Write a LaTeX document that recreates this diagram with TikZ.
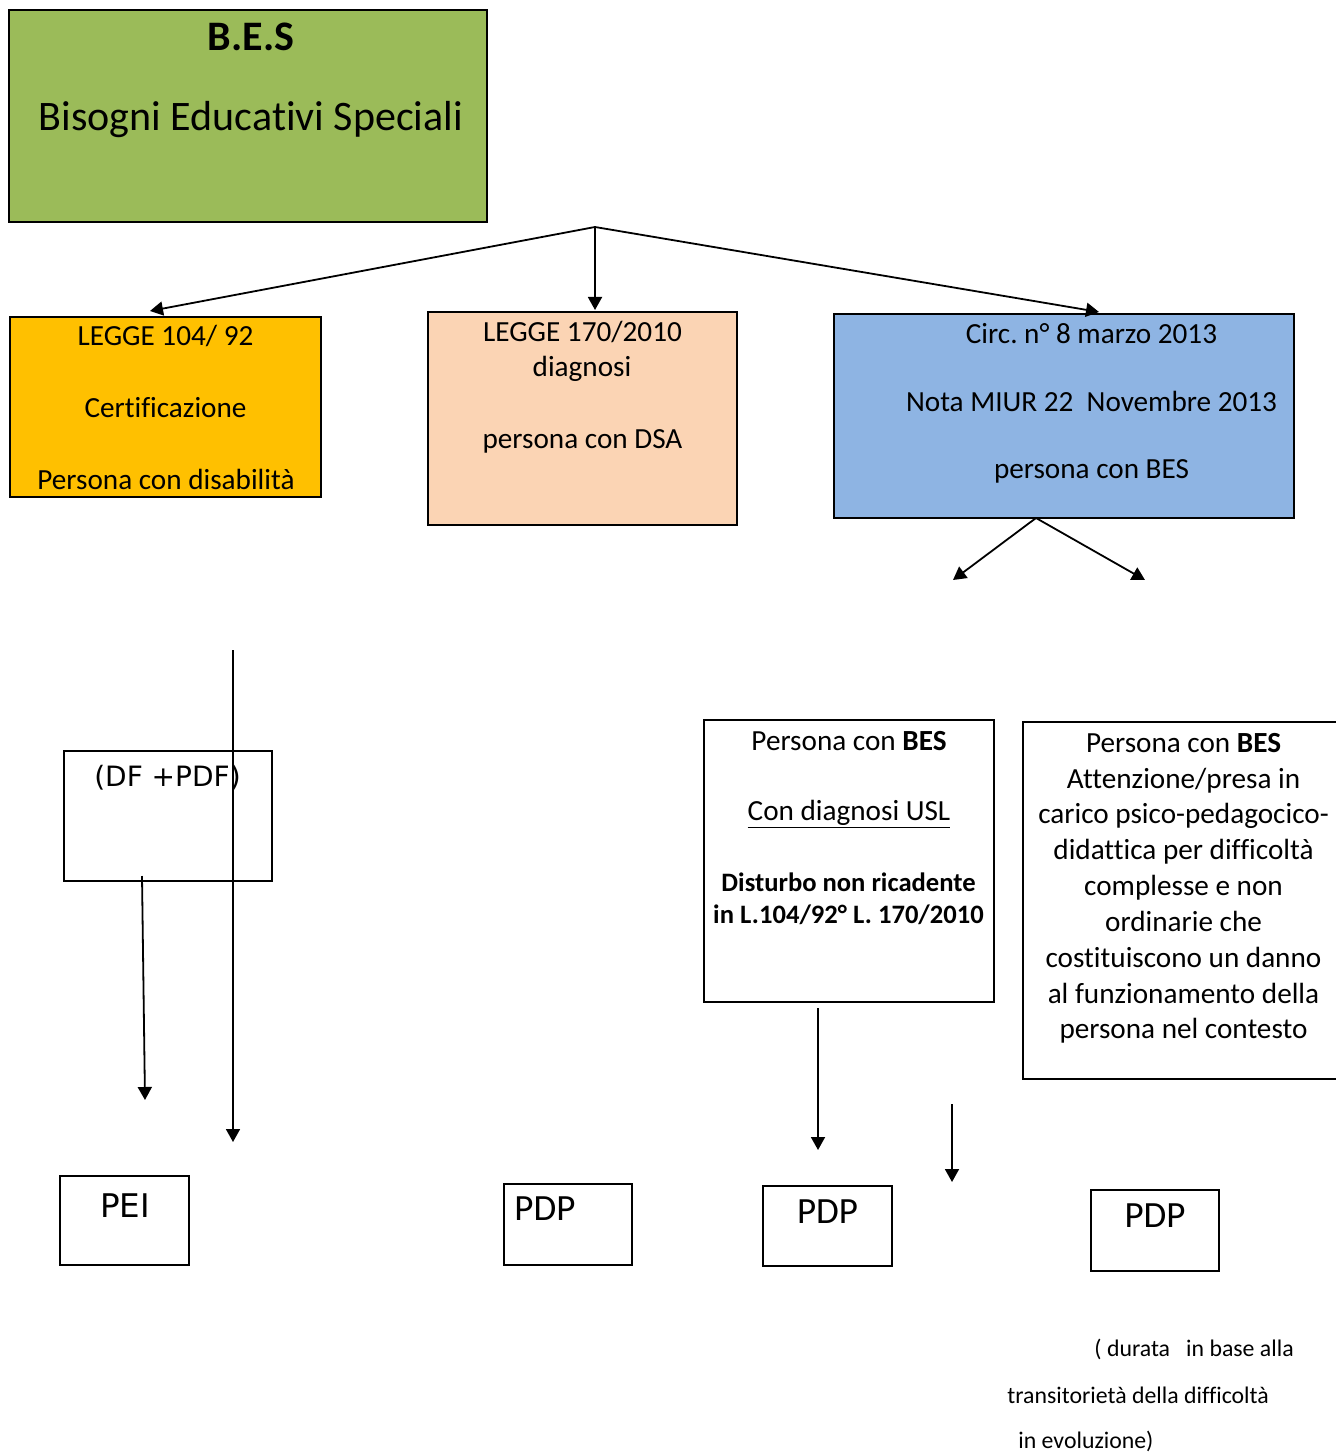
\documentclass[tikz,border=0pt]{standalone}
\usepackage{fontspec}
\setmainfont{Carlito}[Ligatures=NoCommon]
\newfontfamily\dv{DejaVu Sans}
\usetikzlibrary{arrows.meta}
\definecolor{bgreen}{HTML}{9BBB59}
\definecolor{borange}{HTML}{FFC000}
\definecolor{bpeach}{HTML}{FBD4B4}
\definecolor{bblue}{HTML}{8EB4E3}
\frenchspacing
\begin{document}
\begin{tikzpicture}[x=0.5pt,y=-0.5pt,
  box/.style={draw=black,line width=1pt,rectangle,inner sep=0pt},
  txt/.style={inner sep=0pt,anchor=base,font=\fontsize{14.6}{17}\selectfont},
  small/.style={inner sep=0pt,anchor=base west,font=\fontsize{11.9}{14}\selectfont},
  conn/.style={line width=0.9pt,-{Triangle[length=6.5pt,width=7pt]}}]
\useasboundingbox (0,0) rectangle (1336,1454);
\clip (0,0) rectangle (1336,1454);

% boxes
\node[box,fill=bgreen,minimum width=239pt,minimum height=106pt] (bes) at (248,116) {};
\node[box,fill=borange,minimum width=155.5pt,minimum height=90pt] (l104) at (165.5,407) {};
\node[box,fill=bpeach,minimum width=154.5pt,minimum height=106.5pt] (l170) at (582.5,418.5) {};
\node[box,fill=bblue,minimum width=230pt,minimum height=102pt] (circ) at (1064,416) {};
\node[box,minimum width=104pt,minimum height=65pt] (df) at (168,816) {};
\node[box,minimum width=64.5pt,minimum height=44.5pt] (pei) at (124.5,1220.5) {};
\node[box,minimum width=64pt,minimum height=40.5pt] (pdp1) at (568,1224.5) {};
\node[box,minimum width=64.5pt,minimum height=40pt] (pdp2) at (827.5,1226) {};
\node[box,minimum width=64pt,minimum height=40.5pt] (pdp3) at (1155,1230.5) {};
\node[box,minimum width=145pt,minimum height=141pt] (bes1) at (849,861) {};
\node[box,minimum width=161pt,minimum height=178.5pt] (bes2) at (1184,900.5) {};

% texts
\node[txt,font=\fontsize{21}{24}\selectfont\bfseries] (t0a) at (251,51) {B.E.S};
\node[txt,font=\fontsize{21}{24}\selectfont] (t0b) at (251,131) {Bisogni Educativi Speciali};

\node[txt] (t1a) at (165.5,346) {LEGGE 104/ 92};
\node[txt] (t1b) at (165.5,418) {Certificazione};
\node[txt] (t1c) at (166,489) {Persona con disabilità};

\node[txt] (t2a) at (582.5,342) {LEGGE 170/2010};
\node[txt] (t2b) at (582,377) {diagnosi};
\node[txt] (t2c) at (582.5,448) {persona con DSA};

\node[txt] (t3a) at (1091.5,344) {Circ. n° 8 marzo 2013};
\node[txt] (t3b) at (1091.5,412) {Nota MIUR 22\ \ Novembre 2013};
\node[txt] (t3c) at (1091.5,478) {persona con BES};

\node[txt] (t4a) at (849,750) {Persona con \textbf{BES}};
\node[txt] (t4b) at (849,820) {\underline{Con diagnosi USL}};
\node[txt,font=\fontsize{13.3}{16}\selectfont\bfseries] (t4c) at (848.5,891) {Disturbo non ricadente};
\node[txt,font=\fontsize{13.3}{16}\selectfont\bfseries] (t4d) at (848.5,923) {in L.104/92° L. 170/2010};

\node[txt] (t5a) at (1183.5,752) {Persona con \textbf{BES}};
\node[txt] (t5b) at (1183.5,788) {Attenzione/presa in};
\node[txt] (t5c) at (1183.5,823) {carico psico-pedagocico-};
\node[txt] (t5d) at (1183.5,859) {didattica per difficoltà};
\node[txt] (t5e) at (1183.5,895) {complesse e non};
\node[txt] (t5f) at (1183.5,931) {ordinarie che};
\node[txt] (t5g) at (1183.5,967) {costituiscono un danno};
\node[txt] (t5h) at (1183.5,1003) {al funzionamento della};
\node[txt] (t5i) at (1183.5,1038) {persona nel contesto};

\node[txt,font=\fontsize{14}{17}\dv] (t6) at (167.5,786) {(DF +PDF)};
\node[txt,font=\fontsize{16.3}{19}\dv] (t7) at (125,1217) {PEI};
\node[txt,anchor=base west,font=\fontsize{18.5}{21}\selectfont] (t8) at (514,1220) {PDP};
\node[txt,font=\fontsize{18.5}{21}\selectfont] (t9) at (827.5,1223) {PDP};
\node[txt,font=\fontsize{18.5}{21}\selectfont] (t10) at (1155,1227) {PDP};

\node[small] (n1) at (1094,1356) {( durata\ \ \ in base alla};
\node[small] (n2) at (1007,1403) {transitorietà della difficoltà};
\node[small] (n3) at (1018,1448) {in evoluzione)};

% coordinates
\coordinate (J) at (595,227);
\coordinate (e1) at (150,311);
\coordinate (e2) at (595,310);
\coordinate (e3) at (1099,312);
\coordinate (B) at (1036,518);
\coordinate (e4) at (953,580);
\coordinate (e5) at (1145,580);
\coordinate (s6) at (233,650);
\coordinate (e6) at (233,1142);
\coordinate (s7) at (142,876);
\coordinate (e7) at (145,1100);
\coordinate (s8) at (818,1008);
\coordinate (e8) at (818,1150);
\coordinate (s9) at (952,1104);
\coordinate (e9) at (952,1182);

% connectors
\draw[conn] (J) -- (e1);
\draw[conn] (J) -- (e2);
\draw[conn] (J) -- (e3);
\draw[conn] (B) -- (e4);
\draw[conn] (B) -- (e5);
\draw[conn] (s6) -- (e6);
\draw[conn] (s7) -- (e7);
\draw[conn] (s8) -- (e8);
\draw[conn] (s9) -- (e9);
\end{tikzpicture}
\end{document}
